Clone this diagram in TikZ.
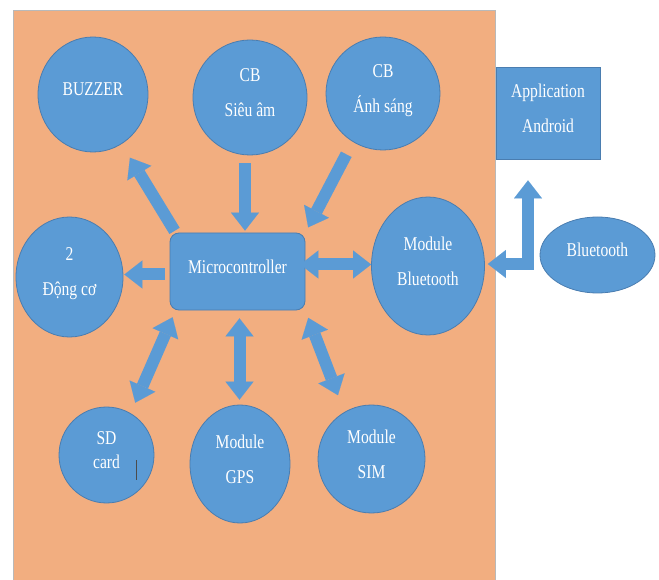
\documentclass[tikz,border=0pt]{standalone}
\usepackage{fontspec}
\usepackage{tikz}
\usetikzlibrary{shapes.geometric,arrows.meta}
\newfontfamily\tnr[FakeStretch=0.8]{Liberation Serif}
\definecolor{partblue}{HTML}{5B9BD5}
\definecolor{partedge}{HTML}{4A7DB0}
\definecolor{boardorange}{HTML}{F2AE80}

\begin{document}
\begin{tikzpicture}[x=1pt, y=-1pt,
	part/.style={ellipse, fill=partblue, draw=partedge, line width=0.8pt, text=white, inner sep=0pt, text depth=10pt, align=center, font=\tnr\fontsize{19.5}{35}\selectfont},
	block/.style={rectangle, fill=partblue, draw=partedge, line width=0.8pt, text=white, inner sep=0pt, text depth=10pt, align=center, font=\tnr\fontsize{19.5}{35}\selectfont},
	fat/.style={draw=partblue, line width=12pt, -{Triangle[width=28pt,length=18pt,line width=0.01pt]}},
	fatboth/.style={draw=partblue, line width=12pt, {Triangle[width=28pt,length=18pt,line width=0.01pt]}-{Triangle[width=28pt,length=18pt,line width=0.01pt]}}]
			\useasboundingbox (0, 0) rectangle (659, 580);
			\draw[draw=gray!55, fill=boardorange, line width=0.8pt] (13, 10) rectangle (495, 590);
			% nodes
			\node[part, minimum width=110pt, minimum height=115pt](buzzer) at (93, 94.5) {BUZZER};
			\node[part, minimum width=114pt, minimum height=115pt](sieuam) at (250, 97.5) {CB\\Siêu âm};
			\node[part, minimum width=114pt, minimum height=113pt](anhsang) at (383, 93.5) {CB\\Ánh sáng};
			\node[block, minimum width=104pt, minimum height=92pt](app) at (548, 113) {Application\\Android};
			\node[block, rounded corners=9pt, minimum width=135pt, minimum height=77pt](micro) at (237.5, 271.5) {Microcontroller};
			\node[part, minimum width=107pt, minimum height=120pt](dongco) at (69.5, 277) {2\\Động cơ};
			\node[part, minimum width=113pt, minimum height=138pt](mbt) at (428, 266) {Module\\Bluetooth};
			\node[part, minimum width=115pt, minimum height=76pt](bt) at (597.5, 255) {Bluetooth};
			\node[part, minimum width=95pt, minimum height=96pt, font=\tnr\fontsize{19.5}{24}\selectfont](sd) at (106.5, 455) {SD\\card};
			\node[part, minimum width=100pt, minimum height=118pt](gps) at (240, 464) {Module\\GPS};
			\node[part, minimum width=107pt, minimum height=108pt](sim) at (371.5, 459) {Module\\SIM};
			% cursor mark in the SD card
			\draw[gray!60!black, line width=0.7pt] (sd.center) ++(29.5, 5) -- ++(0, 20);
			% arrows
			\draw[fat, shorten <=2pt, shorten >=16pt] ([xshift=6pt]micro.north west) -- (buzzer.-60);
			\draw[fat, shorten <=8pt, shorten >=2pt] ([xshift=-5pt]sieuam.south) -- ([xshift=-5pt]sieuam.south |- micro.north);
			\draw[fat, shorten <=14pt, shorten >=6pt] (anhsang.-122) -- (micro.north east);
			\draw[fat, shorten <=5pt, shorten >=1pt] ([yshift=-3pt]micro.west) -- ([yshift=-3pt]micro.west -| dongco.east);
			\draw[fatboth, shorten <=-5pt] ([yshift=7pt]micro.east) -- ([yshift=7pt]micro.east -| mbt.west);
			\draw[fatboth, line join=miter, shorten <=3pt, shorten >=21pt] ([yshift=2pt]mbt.east) -| ([xshift=-20pt]app.south);
			\draw[fatboth, shorten <=7.5pt, shorten >=11.5pt] ([xshift=6pt]micro.south west) -- (sd.60);
			\draw[fatboth, shorten <=8pt, shorten >=5pt] ([xshift=2pt]micro.south) -- ([xshift=2pt]micro.south |- gps.north);
			\draw[fatboth, shorten <=8pt, shorten >=18pt] (micro.south east) -- (sim.120);
		\end{tikzpicture}
\end{document}
